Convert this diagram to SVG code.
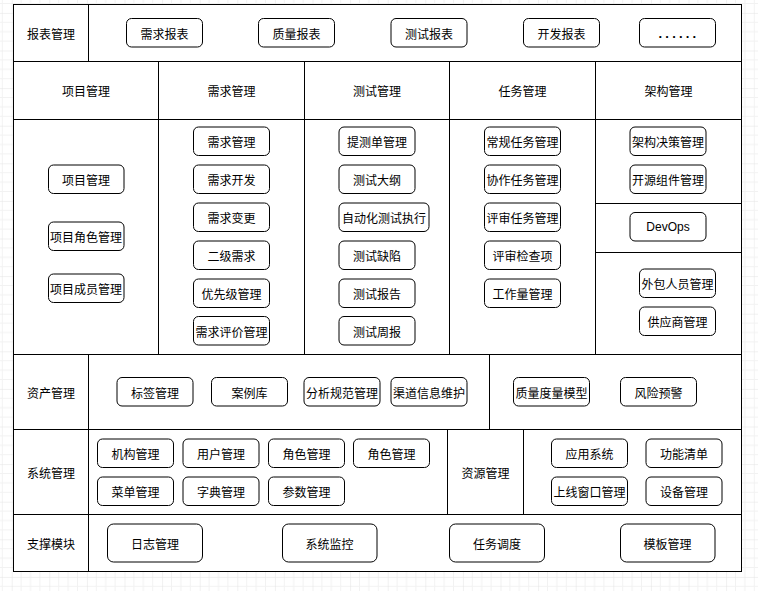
<svg xmlns="http://www.w3.org/2000/svg" width="758" height="591" viewBox="0 0 758 591">
<style>
.cell{fill:none;stroke:#000;stroke-width:1}
.b{fill:#fff;stroke:#000;stroke-width:1}
text{font-family:"Noto Sans CJK SC","Microsoft YaHei",sans-serif;font-size:12px;fill:#000;text-anchor:middle;dominant-baseline:central}
.lat{font-family:"Liberation Sans","Noto Sans",sans-serif}
</style>
<defs>
<pattern id="grid" x="11.7" y="12.9" width="37.6" height="37.6" patternUnits="userSpaceOnUse">
<path d="M9.4 0V37.6M18.8 0V37.6M28.2 0V37.6M0 9.4H37.6M0 18.8H37.6M0 28.2H37.6" fill="none" stroke="#f2f2f2" stroke-width="1"/>
<path d="M0 0V37.6M0 0H37.6" fill="none" stroke="#e4e4e4" stroke-width="1"/>
</pattern>
</defs>
<rect width="758" height="591" fill="#fff"/>
<rect width="758" height="591" fill="url(#grid)"/>
<rect x="13.5" y="4.5" width="728" height="567" fill="#fff"/>
<g id="frame">
<rect class="cell" x="13.5" y="4.5" width="728" height="567"/>
<path class="cell" d="M13.5 61.5H741.5M13.5 119.5H741.5M13.5 354.5H741.5M13.5 429.5H741.5M13.5 514.5H741.5"/>
<path class="cell" d="M88.5 4.5V61.5M158.5 61.5V354.5M304.5 61.5V354.5M449.5 61.5V354.5M595.5 61.5V354.5M595.5 203.5H741.5M595.5 252.5H741.5M88.5 354.5V571.5M489.5 354.5V429.5M447.5 429.5V514.5M523.5 429.5V514.5"/>
</g>
<g id="labels">
<text x="51" y="33">报表管理</text>
<text x="86" y="90">项目管理</text>
<text x="231.5" y="90">需求管理</text>
<text x="377" y="90">测试管理</text>
<text x="522.5" y="90">任务管理</text>
<text x="668.5" y="90">架构管理</text>
<text x="51" y="392">资产管理</text>
<text x="51" y="472">系统管理</text>
<text x="485.5" y="472">资源管理</text>
<text x="51" y="543">支撑模块</text>
</g>
<g id="report">
<rect class="b" x="126.5" y="18.5" width="76" height="28.5" rx="5"/><text x="164.5" y="33">需求报表</text>
<rect class="b" x="258.5" y="18.5" width="76" height="28.5" rx="5"/><text x="296.5" y="33">质量报表</text>
<rect class="b" x="391" y="18.5" width="76" height="28.5" rx="5"/><text x="429" y="33">测试报表</text>
<rect class="b" x="523.5" y="18.5" width="76" height="28.5" rx="5"/><text x="561.5" y="33">开发报表</text>
<rect class="b" x="639.5" y="18.5" width="76" height="28.5" rx="5"/><text class="lat" x="679" y="33" style="font-size:13px;letter-spacing:3.2px;font-weight:bold">......</text>
</g>
<g id="project">
<rect class="b" x="48.5" y="165" width="75.5" height="28.5" rx="5"/><text x="86" y="179">项目管理</text>
<rect class="b" x="48.5" y="222" width="75.5" height="28.5" rx="5"/><text x="86" y="236">项目角色管理</text>
<rect class="b" x="48.5" y="274" width="75.5" height="28.5" rx="5"/><text x="86" y="288">项目成员管理</text>
</g>
<g id="req">
<rect class="b" x="193.5" y="127" width="76" height="28.5" rx="5"/><text x="231.5" y="141">需求管理</text>
<rect class="b" x="193.5" y="165" width="76" height="28.5" rx="5"/><text x="231.5" y="179">需求开发</text>
<rect class="b" x="193.5" y="203" width="76" height="28.5" rx="5"/><text x="231.5" y="217">需求变更</text>
<rect class="b" x="193.5" y="241" width="76" height="28.5" rx="5"/><text x="231.5" y="255">二级需求</text>
<rect class="b" x="193.5" y="279" width="76" height="28.5" rx="5"/><text x="231.5" y="293">优先级管理</text>
<rect class="b" x="193.5" y="316.5" width="76" height="28.5" rx="5"/><text x="231.5" y="331">需求评价管理</text>
</g>
<g id="test">
<rect class="b" x="339" y="127" width="76" height="28.5" rx="5"/><text x="377" y="141">提测单管理</text>
<rect class="b" x="339" y="165" width="76" height="28.5" rx="5"/><text x="377" y="179">测试大纲</text>
<rect class="b" x="339" y="203" width="90" height="28.5" rx="5"/><text x="384" y="217">自动化测试执行</text>
<rect class="b" x="339" y="241" width="76" height="28.5" rx="5"/><text x="377" y="255">测试缺陷</text>
<rect class="b" x="339" y="279" width="76" height="28.5" rx="5"/><text x="377" y="293">测试报告</text>
<rect class="b" x="339" y="316.5" width="76" height="28.5" rx="5"/><text x="377" y="331">测试周报</text>
</g>
<g id="task">
<rect class="b" x="484.5" y="127" width="76" height="28.5" rx="5"/><text x="522.5" y="141">常规任务管理</text>
<rect class="b" x="484.5" y="165" width="76" height="28.5" rx="5"/><text x="522.5" y="179">协作任务管理</text>
<rect class="b" x="484.5" y="203" width="76" height="28.5" rx="5"/><text x="522.5" y="217">评审任务管理</text>
<rect class="b" x="484.5" y="241" width="76" height="28.5" rx="5"/><text x="522.5" y="255">评审检查项</text>
<rect class="b" x="484.5" y="279" width="76" height="28.5" rx="5"/><text x="522.5" y="293">工作量管理</text>
</g>
<g id="arch">
<rect class="b" x="630" y="127" width="76" height="28.5" rx="5"/><text x="668" y="141">架构决策管理</text>
<rect class="b" x="630" y="165" width="76" height="28.5" rx="5"/><text x="668" y="179">开源组件管理</text>
<rect class="b" x="630" y="212.5" width="76" height="28.5" rx="5"/><text class="lat" x="668" y="226.5">DevOps</text>
<rect class="b" x="639.5" y="269" width="76" height="28.5" rx="5"/><text x="677.5" y="283">外包人员管理</text>
<rect class="b" x="639.5" y="307" width="76" height="28.5" rx="5"/><text x="677.5" y="321">供应商管理</text>
</g>
<g id="asset">
<rect class="b" x="117" y="377.5" width="76" height="28.5" rx="5"/><text x="155" y="392">标签管理</text>
<rect class="b" x="211.5" y="377.5" width="76" height="28.5" rx="5"/><text x="249.5" y="392">案例库</text>
<rect class="b" x="304" y="377.5" width="76" height="28.5" rx="5"/><text x="342" y="392">分析规范管理</text>
<rect class="b" x="391" y="377.5" width="76" height="28.5" rx="5"/><text x="429" y="392">渠道信息维护</text>
<rect class="b" x="513.5" y="377.5" width="76" height="28.5" rx="5"/><text x="551.5" y="392">质量度量模型</text>
<rect class="b" x="620.5" y="377.5" width="76" height="28.5" rx="5"/><text x="658.5" y="392">风险预警</text>
</g>
<g id="sys">
<rect class="b" x="97.5" y="439" width="76" height="28.5" rx="5"/><text x="135.5" y="453">机构管理</text>
<rect class="b" x="183" y="439" width="76" height="28.5" rx="5"/><text x="221" y="453">用户管理</text>
<rect class="b" x="268.5" y="439" width="76" height="28.5" rx="5"/><text x="306.5" y="453">角色管理</text>
<rect class="b" x="353.5" y="439" width="76" height="28.5" rx="5"/><text x="391.5" y="453">角色管理</text>
<rect class="b" x="97.5" y="477" width="76" height="28.5" rx="5"/><text x="135.5" y="491">菜单管理</text>
<rect class="b" x="183" y="477" width="76" height="28.5" rx="5"/><text x="221" y="491">字典管理</text>
<rect class="b" x="268.5" y="477" width="76" height="28.5" rx="5"/><text x="306.5" y="491">参数管理</text>
</g>
<g id="resource">
<rect class="b" x="551.5" y="439" width="76" height="28.5" rx="5"/><text x="589.5" y="453">应用系统</text>
<rect class="b" x="646" y="439" width="76" height="28.5" rx="5"/><text x="684" y="453">功能清单</text>
<rect class="b" x="551.5" y="477" width="76" height="28.5" rx="5"/><text x="589.5" y="491">上线窗口管理</text>
<rect class="b" x="646" y="477" width="76" height="28.5" rx="5"/><text x="684" y="491">设备管理</text>
</g>
<g id="support">
<rect class="b" x="107.5" y="524" width="95" height="38" rx="6"/><text x="155" y="543">日志管理</text>
<rect class="b" x="282.5" y="524" width="94.5" height="38" rx="6"/><text x="329.5" y="543">系统监控</text>
<rect class="b" x="449.5" y="524" width="95" height="38" rx="6"/><text x="497" y="543">任务调度</text>
<rect class="b" x="620.5" y="524" width="94.5" height="38" rx="6"/><text x="667.5" y="543">模板管理</text>
</g>
<g id="connectors"></g>
</svg>
